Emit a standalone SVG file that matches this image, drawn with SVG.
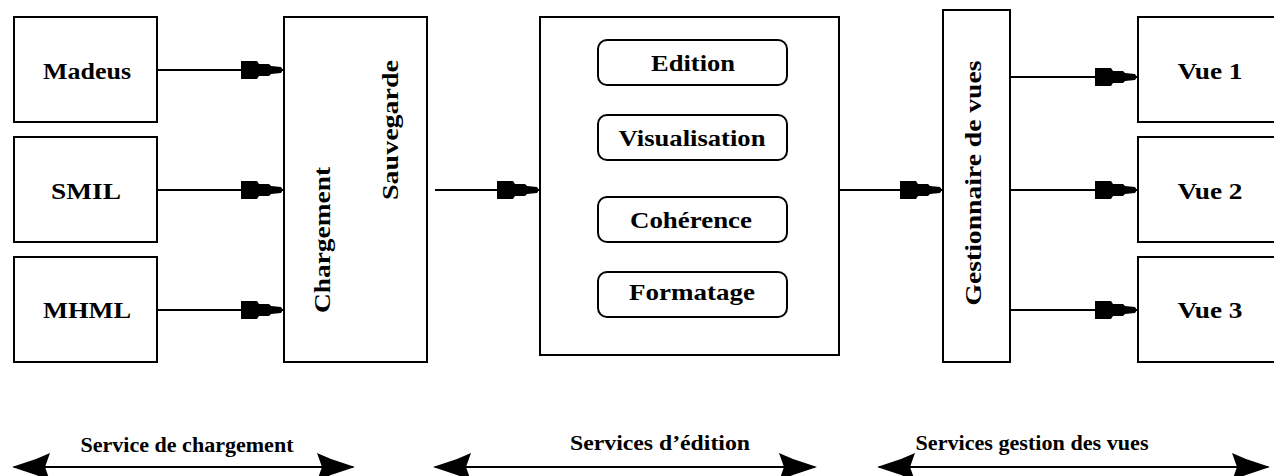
<svg xmlns="http://www.w3.org/2000/svg" width="1274" height="476" viewBox="0 0 1274 476">
  <style>
    .box { fill: #ffffff; stroke: #000000; stroke-width: 2; }
    .pill { fill: #ffffff; stroke: #000000; stroke-width: 2; }
    .lbl { font-family: "Liberation Serif", "Times New Roman", serif; font-weight: bold; font-size: 24px; fill: #000000; text-anchor: middle; }
    .cap { font-family: "Liberation Serif", "Times New Roman", serif; font-weight: bold; font-size: 22px; fill: #000000; text-anchor: middle; }
    .wire { stroke: #000000; stroke-width: 2; fill: none; }
    .head { fill: #000000; }
  </style>
  <defs>
    <!-- stepped arrowhead, tip at the origin, pointing +x -->
    <path id="tip" d="M0,0 L-2,-3 L-12,-4 L-14,-6 L-24,-6 L-26,-9 L-42,-9 L-42,9 L-26,9 L-24,6 L-14,6 L-12,4 L-2,3 Z"/>
    <!-- barbed arrowhead for the service spans, tip at the origin, pointing +x -->
    <path id="span" d="M0,0 L-12,-4 L-24,-8 L-38,-14 L-33,0 L-38,14 L-24,8 L-12,4 Z"/>
  </defs>

  <rect width="1274" height="476" fill="#ffffff"/>

  <!-- connectors -->
  <g id="connectors">
    <line class="wire" x1="157" y1="70" x2="284" y2="70"/>
    <use href="#tip" class="head" transform="translate(283,70)"/>
    <line class="wire" x1="157" y1="190" x2="284" y2="190"/>
    <use href="#tip" class="head" transform="translate(283,190)"/>
    <line class="wire" x1="157" y1="310" x2="284" y2="310"/>
    <use href="#tip" class="head" transform="translate(283,310)"/>

    <line class="wire" x1="435" y1="190" x2="540" y2="190"/>
    <use href="#tip" class="head" transform="translate(539,190)"/>

    <line class="wire" x1="839" y1="190" x2="943" y2="190"/>
    <use href="#tip" class="head" transform="translate(942,190)"/>

    <line class="wire" x1="1010" y1="77" x2="1138" y2="77"/>
    <use href="#tip" class="head" transform="translate(1137,77)"/>
    <line class="wire" x1="1010" y1="190" x2="1138" y2="190"/>
    <use href="#tip" class="head" transform="translate(1137,190)"/>
    <line class="wire" x1="1010" y1="310" x2="1138" y2="310"/>
    <use href="#tip" class="head" transform="translate(1137,310)"/>

    <!-- service spans -->
    <line class="wire" x1="14" y1="467" x2="353" y2="467"/>
    <use href="#span" class="head" transform="translate(12,467) rotate(180)"/>
    <use href="#span" class="head" transform="translate(355,467)"/>

    <line class="wire" x1="435" y1="467" x2="815" y2="467"/>
    <use href="#span" class="head" transform="translate(433,467) rotate(180)"/>
    <use href="#span" class="head" transform="translate(817,467)"/>

    <line class="wire" x1="879" y1="467" x2="1268" y2="467"/>
    <use href="#span" class="head" transform="translate(877,467) rotate(180)"/>
    <use href="#span" class="head" transform="translate(1270,467)"/>
  </g>

  <!-- source documents -->
  <g id="madeus">
    <rect class="box" x="14" y="17" width="143" height="105"/>
    <text class="lbl" x="87" y="79" textLength="88" lengthAdjust="spacingAndGlyphs">Madeus</text>
  </g>
  <g id="smil">
    <rect class="box" x="14" y="137" width="143" height="105"/>
    <text class="lbl" x="86" y="199" textLength="70" lengthAdjust="spacingAndGlyphs">SMIL</text>
  </g>
  <g id="mhml">
    <rect class="box" x="14" y="257" width="143" height="105"/>
    <text class="lbl" x="87" y="318" textLength="88" lengthAdjust="spacingAndGlyphs">MHML</text>
  </g>

  <!-- loading / saving -->
  <g id="chargement">
    <rect class="box" x="284" y="17" width="143" height="345"/>
    <text class="lbl" transform="translate(330,240) rotate(-90)" textLength="146" lengthAdjust="spacingAndGlyphs">Chargement</text>
    <text class="lbl" transform="translate(398,130) rotate(-90)" textLength="140" lengthAdjust="spacingAndGlyphs">Sauvegarde</text>
  </g>

  <!-- editing services -->
  <g id="services">
    <rect class="box" x="540" y="17" width="299" height="338"/>
  </g>
  <g id="edition">
    <rect class="pill" x="598" y="40" width="189" height="45" rx="9"/>
    <text class="lbl" x="693" y="71" textLength="84" lengthAdjust="spacingAndGlyphs">Edition</text>
  </g>
  <g id="visualisation">
    <rect class="pill" x="598" y="115" width="189" height="45" rx="9"/>
    <text class="lbl" x="692" y="146" textLength="147" lengthAdjust="spacingAndGlyphs">Visualisation</text>
  </g>
  <g id="coherence">
    <rect class="pill" x="598" y="197" width="189" height="45" rx="9"/>
    <text class="lbl" x="691" y="228" textLength="122" lengthAdjust="spacingAndGlyphs">Cohérence</text>
  </g>
  <g id="formatage">
    <rect class="pill" x="598" y="272" width="189" height="45" rx="9"/>
    <text class="lbl" x="692" y="300" textLength="126" lengthAdjust="spacingAndGlyphs">Formatage</text>
  </g>

  <!-- view manager -->
  <g id="gestionnaire">
    <rect class="box" x="943" y="10" width="67" height="352"/>
    <text class="lbl" transform="translate(981,183) rotate(-90)" textLength="245" lengthAdjust="spacingAndGlyphs">Gestionnaire de vues</text>
  </g>

  <!-- views -->
  <g id="vue1">
    <rect class="box" x="1138" y="17" width="150" height="105"/>
    <text class="lbl" x="1210" y="79" textLength="65" lengthAdjust="spacingAndGlyphs">Vue 1</text>
  </g>
  <g id="vue2">
    <rect class="box" x="1138" y="137" width="150" height="105"/>
    <text class="lbl" x="1210" y="199" textLength="65" lengthAdjust="spacingAndGlyphs">Vue 2</text>
  </g>
  <g id="vue3">
    <rect class="box" x="1138" y="257" width="150" height="105"/>
    <text class="lbl" x="1210" y="318" textLength="65" lengthAdjust="spacingAndGlyphs">Vue 3</text>
  </g>

  <!-- service span captions -->
  <g id="captions">
    <text class="cap" x="187" y="452" textLength="213" lengthAdjust="spacingAndGlyphs">Service de chargement</text>
    <text class="cap" x="660" y="450" textLength="180" lengthAdjust="spacingAndGlyphs">Services d’édition</text>
    <text class="cap" x="1032" y="450" textLength="233" lengthAdjust="spacingAndGlyphs">Services gestion des vues</text>
  </g>
</svg>
